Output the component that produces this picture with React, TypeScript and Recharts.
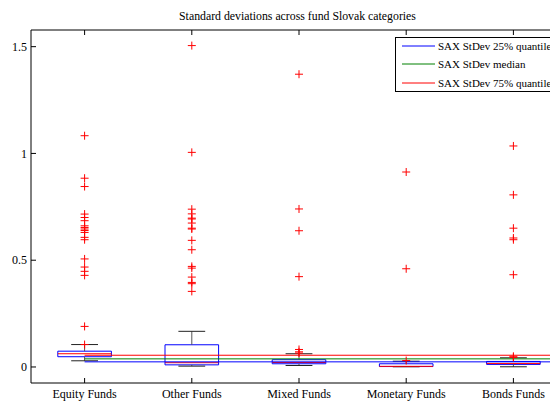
import React from 'react';
import {
  ComposedChart,
  XAxis,
  YAxis,
  Line,
  Scatter,
  ReferenceArea,
  ReferenceLine,
  Legend,
} from 'recharts';

const FONT = '"Liberation Serif", "Times New Roman", serif';

const categories = ['Equity Funds', 'Other Funds', 'Mixed Funds', 'Monetary Funds', 'Bonds Funds'];
const positions = [1, 2, 3, 4, 5];
const yTicks = [0, 0.5, 1, 1.5];

const q1 = [0.048, 0.01, 0.015, 0.002, 0.012];
const medians = [0.062, 0.02, 0.021, 0.003, 0.016];
const q3 = [0.074, 0.104, 0.034, 0.015, 0.026];
const whiskerLow = [0.029, 0.004, 0.007, 0.001, 0.001];
const whiskerHigh = [0.105, 0.167, 0.062, 0.027, 0.043];

const equityOutliers = [1.083, 0.884, 0.845, 0.716, 0.7, 0.685, 0.661, 0.653, 0.646, 0.639, 0.63, 0.607, 0.596, 0.506, 0.468, 0.448, 0.429, 0.19, 0.105];
const otherOutliers = [1.505, 1.005, 0.739, 0.717, 0.697, 0.693, 0.674, 0.65, 0.646, 0.593, 0.549, 0.471, 0.463, 0.421, 0.396, 0.39, 0.354];
const mixedOutliers = [1.371, 0.74, 0.638, 0.423, 0.082, 0.071, 0.065];
const monetaryOutliers = [0.913, 0.46, 0.03];
const bondsOutliers = [1.035, 0.806, 0.65, 0.604, 0.596, 0.432, 0.05, 0.045];

const saxQ25 = 0.024;
const saxMedian = 0.038;
const saxQ75 = 0.055;

const outlierGroups = [equityOutliers, otherOutliers, mixedOutliers, monetaryOutliers, bondsOutliers];
const outlierData = outlierGroups.flatMap((arr, i) => arr.map((v) => ({ x: positions[i], y: v })));

const saxSeries = [
  { name: 'SAX StDev 25% quantile', value: saxQ25, color: '#0000ff' },
  { name: 'SAX StDev median', value: saxMedian, color: '#008000' },
  { name: 'SAX StDev 75% quantile', value: saxQ75, color: '#ff0000' },
];

const TICK = 6;
const MARGIN = 2;

const LeftTick = (props: any) => {
  const { x, y, payload } = props;
  const ax = x + TICK + MARGIN;
  return (
    <g>
      <line x1={ax} x2={ax + 5} y1={y} y2={y} stroke="#000" />
      <text x={ax - 4} y={y} dy="0.35em" textAnchor="end" fontSize={12} fontFamily={FONT} fill="#000">
        {payload.value}
      </text>
    </g>
  );
};

const BottomTick = (props: any) => {
  const { x, y, payload } = props;
  const ay = y - TICK - MARGIN;
  return (
    <g>
      <line x1={x} x2={x} y1={ay} y2={ay - 5} stroke="#000" />
      <text x={x} y={ay + 15} textAnchor="middle" fontSize={12} fontFamily={FONT} fill="#000">
        {categories[payload.value - 1]}
      </text>
    </g>
  );
};

const TopTick = (props: any) => {
  const { x, y } = props;
  const ay = y + TICK + MARGIN;
  return <line x1={x} x2={x} y1={ay} y2={ay + 5} stroke="#000" />;
};

const Plus = (props: any) => {
  const { cx, cy } = props;
  if (cx == null || cy == null) return null;
  return (
    <g stroke="#ff0000" strokeWidth={1}>
      <line x1={cx - 4} x2={cx + 4} y1={cy} y2={cy} />
      <line x1={cx} x2={cx} y1={cy - 4} y2={cy + 4} />
    </g>
  );
};

const LegendBox = () => (
  <div
    style={{
      position: 'relative',
      width: 172,
      height: 55,
      border: '1px solid #000',
      background: '#fff',
      fontFamily: FONT,
      fontSize: 11,
      color: '#000',
      boxSizing: 'border-box',
    }}
  >
    {saxSeries.map((e, i) => (
      <div
        key={e.name}
        style={{
          position: 'absolute',
          left: 0,
          top: 7.5 + i * 18.6 - 8,
          height: 16,
          display: 'flex',
          alignItems: 'center',
          whiteSpace: 'nowrap',
        }}
      >
        <svg width={42} height={16} style={{ display: 'block' }}>
          <line x1={6} x2={39} y1={8} y2={8} stroke={e.color} strokeWidth={1} />
        </svg>
        <span style={{ lineHeight: '16px' }}>{e.name}</span>
      </div>
    ))}
  </div>
);

export default function App() {
  return (
    <div style={{ position: 'relative', width: 550, height: 397, overflow: 'hidden' }}>
      <div
        style={{
          position: 'absolute',
          left: 0,
          width: 579,
          top: 1,
          textAlign: 'center',
          fontFamily: FONT,
          fontSize: 11.8,
          lineHeight: '14px',
          color: '#000',
          zIndex: 2,
        }}
      >
        Standard deviations across fund Slovak categories
      </div>
      <ComposedChart width={580} height={397} margin={{ top: 0, right: 21, bottom: 0, left: 0 }}>
        <XAxis
          dataKey="x"
          type="number"
          domain={[0.5, 5.5]}
          ticks={positions}
          allowDataOverflow
          height={22}
          tickSize={TICK}
          tickMargin={MARGIN}
          tickLine={false}
          tick={<BottomTick />}
          axisLine={{ stroke: '#000' }}
          interval={0}
        />
        <XAxis
          xAxisId="top"
          orientation="top"
          dataKey="x"
          type="number"
          domain={[0.5, 5.5]}
          ticks={positions}
          allowDataOverflow
          height={22}
          tickSize={TICK}
          tickMargin={MARGIN}
          tickLine={false}
          tick={<TopTick />}
          axisLine={{ stroke: '#000' }}
          interval={0}
        />
        <YAxis
          type="number"
          domain={[-0.075, 1.578]}
          ticks={yTicks}
          allowDataOverflow
          width={23}
          tickSize={TICK}
          tickMargin={MARGIN}
          tickLine={false}
          tick={<LeftTick />}
          axisLine={{ stroke: '#000' }}
          interval={0}
        />
        <Legend
          layout="vertical"
          align="center"
          verticalAlign="middle"
          content={<LegendBox />}
          wrapperStyle={{ position: 'absolute', left: 387, top: 29, width: 172 }}
        />
        {positions.map((p, i) => (
          <ReferenceLine
            key={`wh-${i}`}
            segment={[{ x: p, y: q3[i] }, { x: p, y: whiskerHigh[i] }]}
            stroke="#555"
            strokeWidth={1}
          />
        ))}
        {positions.map((p, i) => (
          <ReferenceLine
            key={`wl-${i}`}
            segment={[{ x: p, y: whiskerLow[i] }, { x: p, y: q1[i] }]}
            stroke="#555"
            strokeWidth={1}
          />
        ))}
        {positions.map((p, i) => (
          <ReferenceLine
            key={`ch-${i}`}
            segment={[{ x: p - 0.125, y: whiskerHigh[i] }, { x: p + 0.125, y: whiskerHigh[i] }]}
            stroke="#222"
            strokeWidth={1}
          />
        ))}
        {positions.map((p, i) => (
          <ReferenceLine
            key={`cl-${i}`}
            segment={[{ x: p - 0.125, y: whiskerLow[i] }, { x: p + 0.125, y: whiskerLow[i] }]}
            stroke="#222"
            strokeWidth={1}
          />
        ))}
        {positions.map((p, i) => (
          <ReferenceArea
            key={`box-${i}`}
            x1={p - 0.25}
            x2={p + 0.25}
            y1={q1[i]}
            y2={q3[i]}
            fill="none"
            fillOpacity={0}
            stroke="#0000ff"
            strokeWidth={1}
          />
        ))}
        {positions.map((p, i) => (
          <ReferenceLine
            key={`med-${i}`}
            segment={[{ x: p - 0.25, y: medians[i] }, { x: p + 0.25, y: medians[i] }]}
            stroke="#ff0000"
            strokeWidth={1}
          />
        ))}
        {saxSeries.map((s) => (
          <Line
            key={s.name}
            name={s.name}
            data={[{ x: 1, y: s.value }, { x: 5.5, y: s.value }]}
            dataKey="y"
            stroke={s.color}
            strokeWidth={1}
            dot={false}
            activeDot={false}
            isAnimationActive={false}
            type="linear"
          />
        ))}
        <Scatter
          name="outliers"
          data={outlierData}
          dataKey="y"
          shape={<Plus />}
          legendType="none"
          isAnimationActive={false}
        />
      </ComposedChart>
    </div>
  );
}
